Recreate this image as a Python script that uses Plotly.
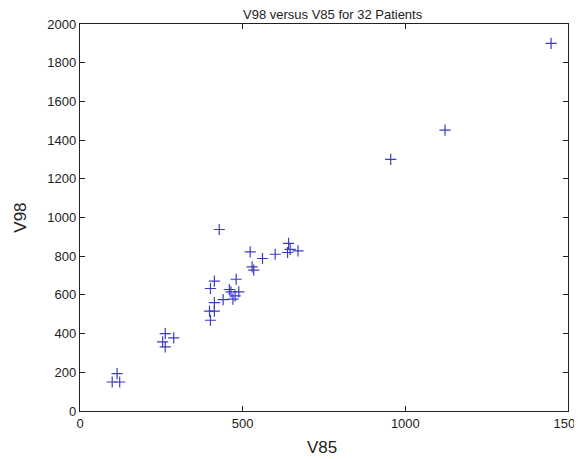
import plotly.graph_objects as go

v85 = [99, 122, 114, 254, 262, 262, 288, 401, 398, 413, 413, 401, 413, 428,
       440, 459, 464, 470, 477, 488, 480, 523, 529, 534, 561, 600, 641, 638,
       646, 670, 1448, 1122, 955]
v98 = [150, 150, 193, 357, 331, 400, 378, 469, 516, 516, 560, 633, 671, 938,
       576, 628, 616, 578, 595, 616, 681, 822, 745, 728, 788, 810, 866, 819,
       835, 828, 1900, 1452, 1300]

x_ticks = [0, 500, 1000, 1500]
y_ticks = [0, 200, 400, 600, 800, 1000, 1200, 1400, 1600, 1800, 2000]

FONT = "Liberation Sans, Arial"
INK = "#222"

# page body has an 8px default margin; size the figure to fill the rest
OFF = 8
W, H = 582 - OFF, 459 - OFF
L, R, T, B = 79.5 - OFF, 14, 24 - OFF, 48.3

fig = go.Figure()
fig.add_trace(go.Scatter(
    x=v85, y=v98, mode="markers",
    marker=dict(symbol="cross-thin", size=8,
                line=dict(width=1.2, color="#3c3cc2"), color="#3c3cc2"),
    showlegend=False,
))

axis_common = dict(
    showline=True, linecolor=INK, linewidth=1.3, mirror="ticks",
    ticks="inside", ticklen=5, tickcolor=INK, tickwidth=1,
    showgrid=False, zeroline=False, automargin=False,
    ticklabeloverflow="allow",
    tickfont=dict(family=FONT, size=13, color=INK),
)

pw = W - L - R
ph = H - T - B
def px(xp):
    return (xp - OFF - L) / pw
def py(yp):
    return (H - B - (yp - OFF)) / ph

fig.update_layout(
    width=W, height=H,
    margin=dict(l=L, r=R, t=T, b=B, autoexpand=False),
    paper_bgcolor="white", plot_bgcolor="white",
    xaxis=dict(range=[0, 1500], tickvals=x_ticks, **axis_common),
    yaxis=dict(range=[0, 2000], tickvals=y_ticks, **axis_common),
    annotations=[
        dict(text="V98 versus V85 for 32 Patients", x=px(333), y=py(14.5),
             xref="paper", yref="paper", showarrow=False, xanchor="center", yanchor="middle",
             font=dict(family=FONT, size=13, color=INK)),
        dict(text="V85", x=px(322), y=py(447),
             xref="paper", yref="paper", showarrow=False, xanchor="center", yanchor="middle",
             font=dict(family=FONT, size=17, color=INK)),
        dict(text="V98", x=px(20), y=py(218), textangle=-90,
             xref="paper", yref="paper", showarrow=False, xanchor="center", yanchor="middle",
             font=dict(family=FONT, size=17, color=INK)),
    ],
)

fig.write_html("out.html")
